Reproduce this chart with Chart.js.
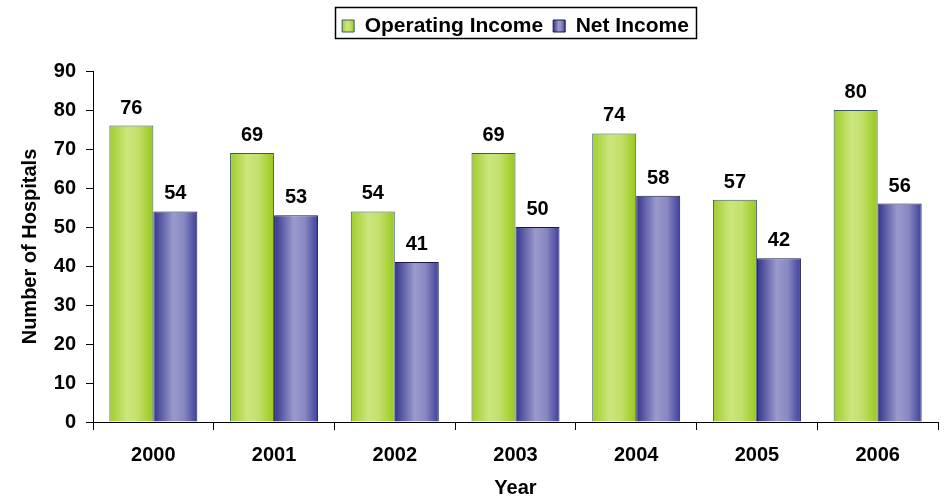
<!DOCTYPE html>
<html><head><meta charset="utf-8">
<script src="https://cdn.jsdelivr.net/npm/chart.js@4.4.1/dist/chart.umd.min.js"></script>
<style>html,body{margin:0;padding:0;background:#fff}</style>
</head><body>
<canvas id="c" width="944" height="498"></canvas>
<script>
// ---- data ----
const years = ['2000', '2001', '2002', '2003', '2004', '2005', '2006'];
const operatingIncome = [76, 69, 54, 69, 74, 57, 80];
const netIncome = [54, 53, 41, 50, 58, 42, 56];
const yTickValues = [0, 10, 20, 30, 40, 50, 60, 70, 80, 90];
const seriesNames = ['Operating Income', 'Net Income'];

// ---- styles ----
const FONT = "'Liberation Sans', Arial, Helvetica, sans-serif";
const greenStops = [[0, '#a0cc2c'], [0.4, '#cce67c'], [0.65, '#c2e06a'], [1, '#98c81a']];
const blueStops = [[0, '#34348c'], [0.45, '#9a9acc'], [0.7, '#8888c2'], [1, '#3e3e9c']];

function makeGrad(ctx, x0, x1, stops) {
  const g = ctx.createLinearGradient(x0, 0, x1, 0);
  stops.forEach(s => g.addColorStop(s[0], s[1]));
  return g;
}

Chart.defaults.font.family = FONT;
Chart.defaults.color = '#000';

const barStyle = {
  id: 'barStyle',
  beforeDatasetsDraw(chart) {
    const ctx = chart.ctx;
    chart.data.datasets.forEach((ds, di) => {
      const meta = chart.getDatasetMeta(di);
      const stops = di === 0 ? greenStops : blueStops;
      meta.data.forEach(el => {
        const g = makeGrad(ctx, el.x - el.width / 2, el.x + el.width / 2, stops);
        el.options = Object.assign({}, el.options, { backgroundColor: g });
      });
    });
  },
  afterDatasetsDraw(chart) {
    const ctx = chart.ctx;
    ctx.save();
    ctx.font = 'bold 20px ' + FONT;
    ctx.fillStyle = '#000';
    ctx.textAlign = 'center';
    ctx.textBaseline = 'alphabetic';
    chart.data.datasets.forEach((ds, di) => {
      chart.getDatasetMeta(di).data.forEach((el, i) => {
        ctx.fillText(String(ds.data[i]), el.x, el.y - 12);
      });
    });
    ctx.restore();
  }
};

const legendStyle = {
  id: 'legendStyle',
  beforeLayout(chart) {
    const L = chart.legend;
    if (L && !L._patched) {
      const f = L.fit;
      L.fit = function () { f.call(this); this.height = 71; };
      L._patched = true;
    }
  },
  afterLayout(chart) {
    const L = chart.legend;
    if (L) { L.top += 5.5; L.bottom += 5.5; }
  },
  beforeDraw(chart) {
    const L = chart.legend;
    if (!L || !L.legendHitBoxes) return;
    L.legendItems.forEach((it, i) => {
      const hb = L.legendHitBoxes[i];
      if (hb) it.fillStyle = makeGrad(chart.ctx, hb.left, hb.left + 12, i === 0 ? greenStops : blueStops);
    });
  },
  afterDraw(chart) {
    const L = chart.legend;
    if (!L || !L.legendHitBoxes || !L.legendHitBoxes.length) return;
    const hbs = L.legendHitBoxes;
    const a = hbs[0], b = hbs[hbs.length - 1];
    const x0 = Math.round(a.left - 7), x1 = Math.round(b.left + b.width + 7);
    const y0 = Math.round(a.top - 8.5), y1 = Math.round(a.top + a.height + 1.5);
    const ctx = chart.ctx;
    ctx.save();
    ctx.strokeStyle = '#000';
    ctx.lineWidth = 1.5;
    ctx.strokeRect(x0 + 0.5, y0 + 0.5, x1 - x0, y1 - y0);
    ctx.restore();
  }
};

new Chart(document.getElementById('c'), {
  type: 'bar',
  data: {
    labels: years,
    datasets: [
      { label: seriesNames[0], data: operatingIncome, backgroundColor: '#b8dc50', borderColor: '#3a5a6a', borderWidth: 1 },
      { label: seriesNames[1], data: netIncome, backgroundColor: '#6a6ab4', borderColor: '#1a1a40', borderWidth: 1 }
    ]
  },
  options: {
    responsive: false,
    animation: false,
    devicePixelRatio: 1,
    layout: { padding: { top: 0, left: 0, right: 6, bottom: 0 } },
    datasets: { bar: { categoryPercentage: 0.729, barPercentage: 1 } },
    plugins: {
      legend: {
        position: 'top',
        fullSize: false,
        align: 'center',
        labels: {
          font: { size: 21, weight: 'bold' },
          color: '#000',
          boxWidth: 12,
          boxHeight: 12,
          padding: 10
        }
      },
      tooltip: { enabled: false }
    },
    scales: {
      x: {
        offset: true,
        grid: { offset: true, drawOnChartArea: false, drawTicks: true, tickLength: 8, color: '#000', lineWidth: 1 },
        border: { display: true, color: '#000', width: 1 },
        ticks: { font: { size: 20, weight: 'bold' }, color: '#000', padding: 13 },
        title: { display: true, text: 'Year', font: { size: 20, weight: 'bold', lineHeight: 1 }, color: '#000', padding: { top: 0, bottom: 0 } },
        afterFit(s) { s.height = 76; }
      },
      y: {
        min: 0,
        max: 90,
        ticks: { stepSize: 10, font: { size: 20, weight: 'bold' }, color: '#000', padding: 10 },
        afterBuildTicks(s) { s.ticks = yTickValues.map(v => ({ value: v })); },
        grid: { drawOnChartArea: false, drawTicks: true, tickLength: 7, color: '#000', lineWidth: 1 },
        border: { display: true, color: '#000', width: 1 },
        title: { display: true, text: 'Number of Hospitals', font: { size: 20, weight: 'bold', lineHeight: 1 }, color: '#000', padding: { top: 20, bottom: 0 } },
        afterFit(s) { s.width = 93; }
      }
    }
  },
  plugins: [barStyle, legendStyle]
});
</script>
</body></html>
